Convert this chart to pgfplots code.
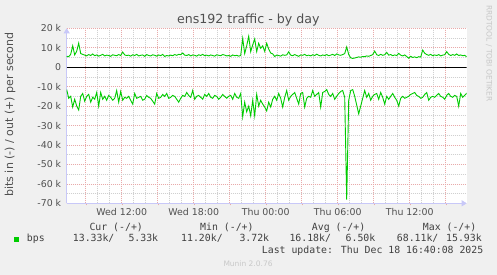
\documentclass[border=0pt]{standalone}
\usepackage{pgfplots}
\pgfplotsset{compat=1.18}
\usepackage{pgfplotstable}
\usepackage{fontspec}
\setmainfont{DejaVu Sans}
\newfontfamily\monofont{DejaVu Sans Mono}
\usetikzlibrary{arrows.meta}
\definecolor{bg}{HTML}{F0F0F0}
\definecolor{munin}{HTML}{00CC00}
\definecolor{gridmaj}{HTML}{E8AAAA}
\definecolor{gridmin}{HTML}{D0D0D0}
\definecolor{axisc}{HTML}{C8C8F8}
\definecolor{txt}{HTML}{505050}
\definecolor{legtxt}{HTML}{404040}
\definecolor{faint}{HTML}{C8C8C8}

% t = position (two 5-minute samples per step), outb / inb in kbit/s
\pgfplotstableread{
t outb inb
0 5.6 -11.5
2 5.4 -16
4 6.6 -15
6 11.0 -20.5
8 6.3 -16.5
10 8.2 -20
12 12.3 -22
14 7.0 -15
16 6.6 -13.5
18 6.2 -17.5
20 5.8 -15
22 6.5 -14
24 6.0 -18
26 6.8 -15.5
28 5.9 -16.5
30 6.3 -13
32 5.7 -20
34 6.1 -13
36 6.6 -16.5
38 5.8 -15
40 6.2 -17
42 6.0 -14.5
44 5.6 -15.5
46 6.4 -17
48 6.1 -16
50 5.9 -12
52 6.5 -18
54 6.0 -12.5
56 7.8 -17
58 6.3 -15.5
60 6.0 -16
62 6.2 -15
64 5.7 -17
66 6.4 -19
68 6.0 -13.5
70 6.6 -16
72 5.8 -15.5
74 6.1 -15
76 6.3 -17
78 5.6 -16.5
80 6.5 -14.5
82 6.0 -15.5
84 5.8 -16
86 6.4 -17.5
88 6.1 -19
90 5.7 -13.5
92 6.3 -16
94 5.9 -15.5
96 6.6 -14
98 5.5 -15
100 6.0 -13.5
102 5.8 -16
104 6.2 -15.5
106 5.9 -14.5
108 6.5 -15
110 6.1 -16.5
112 6.6 -18
114 6.4 -16
116 7.3 -14.5
118 6.2 -15
120 6.0 -13
122 6.5 -14.5
124 5.8 -15.5
126 6.3 -12
128 6.1 -16.5
130 5.7 -15
132 6.4 -14.5
134 6.0 -15.5
136 6.6 -16.5
138 5.9 -14
140 6.2 -15
142 5.8 -13.5
144 6.3 -15.5
146 6.0 -16
148 5.7 -14.5
150 6.4 -15
152 6.1 -16.5
154 5.9 -15.5
156 6.5 -14
158 6.2 -15
160 5.8 -16
162 6.0 -15
164 5.6 -14.5
166 6.3 -16.5
168 5.9 -13.5
170 6.1 -15.5
172 5.7 -16
174 6.0 -13.5
176 14.8 -25.5
178 7.0 -18
180 11.0 -23
182 15.9 -20
184 8.0 -25
186 11.5 -17
188 14.5 -25
190 8.0 -14
192 12.3 -20
194 9.7 -17
196 11.0 -19
198 8.1 -20.5
200 12.3 -22.5
202 9.3 -18
204 7.3 -20.5
206 6.8 -16.5
208 5.5 -15
210 6.2 -17
212 6.0 -13.5
214 5.7 -16
216 6.4 -20.5
218 6.1 -15.5
220 6.3 -12
222 7.9 -17
224 6.2 -15
226 5.9 -14
228 6.5 -13
230 6.0 -16
232 5.6 -19
234 6.3 -13.5
236 6.1 -13
238 6.6 -20.5
240 5.9 -16
242 6.2 -15
244 5.8 -15.5
246 6.4 -12
248 6.0 -15
250 6.7 -14
252 6.1 -13
254 5.8 -20.5
256 6.3 -13
258 6.0 -12.5
260 6.5 -11.5
262 5.9 -14
264 6.2 -15
266 6.6 -13.5
268 6.0 -16.5
270 6.8 -15
272 6.3 -13.5
274 6.1 -12.5
276 6.5 -12
278 7.0 -15.5
280 10.4 -68.11
282 6.5 -17
284 4.8 -12
286 4.5 -11.5
288 4.7 -15
290 5.0 -19.5
292 5.3 -24
294 5.1 -20
296 5.5 -16
298 5.4 -12
300 5.8 -15.5
302 5.6 -13.5
304 6.0 -17
306 6.5 -15
308 8.3 -14
310 6.4 -13.5
312 6.0 -16.5
314 6.6 -13
316 6.1 -15.5
318 6.4 -19
320 7.6 -15
322 6.2 -16.5
324 6.5 -15
326 5.9 -13.5
328 6.3 -15.5
330 6.0 -17
332 7.1 -20
334 6.2 -16
336 5.8 -15
338 6.3 -16
340 5.5 -15.5
342 4.6 -15
344 5.6 -14
346 5.0 -13.5
348 5.3 -13
350 4.9 -14.5
352 5.4 -15
354 5.2 -16
356 8.8 -15.5
358 7.2 -14
360 6.5 -13
362 6.1 -17
364 6.6 -15.5
366 5.9 -15
368 6.3 -15.5
370 6.0 -14.5
372 6.5 -13.5
374 5.8 -15
376 6.2 -15.5
378 6.4 -16.5
380 8.0 -14.5
382 6.6 -13.5
384 6.0 -15
386 6.5 -15.5
388 6.1 -14.5
390 6.8 -15
392 6.0 -20
394 6.3 -13.5
396 5.9 -15.5
398 6.1 -14.5
400 5.33 -13.33
}\traffic

\begin{document}
\begin{tikzpicture}[x=1pt,y=1pt]
\useasboundingbox (0,0) rectangle (497,275);
\fill[bg] (0,0) rectangle (497,275);
\begin{axis}[
  at={(66.7pt,71.7pt)}, anchor=south west,
  scale only axis, width=400pt, height=175pt,
  xmin=0, xmax=400, ymin=-70, ymax=20,
  axis background/.style={fill=white},
  axis lines=left,
  axis line style={draw=axisc, line width=0.8pt},
  x axis line style={-{Triangle[length=5pt,width=6pt]}},
  y axis line style={-{Triangle[length=5pt,width=6pt]}},
  xtick={19,55,...,379},
  xticklabels={,Wed 12:00,,Wed 18:00,,Thu 00:00,,Thu 06:00,,Thu 12:00,},
  minor x tick num=2,
  ytick={-70,-60,...,20},
  yticklabels={-70 k,-60 k,-50 k,-40 k,-30 k,-20 k,-10 k,0,10 k,20 k},
  minor y tick num=1,
  grid=both,
  major grid style={draw=gridmaj, line width=0.6pt, dash pattern=on 1pt off 1pt},
  minor grid style={draw=gridmin, line width=0.6pt, dash pattern=on 1pt off 1pt},
  tick align=outside,
  major tick length=2pt, minor tick length=0pt,
  xtick style={draw=gridmaj},
  ytick style={draw=none},
  tick label style={font=\fontsize{9.4}{10}\selectfont, text=txt},
]
\addplot[munin, line width=0.9pt] table[x=t, y=outb] {\traffic};
\addplot[munin, line width=0.9pt] table[x=t, y=inb] {\traffic};
\addplot[black, line width=0.9pt] coordinates {(0,0) (400,0)};
\end{axis}
\node[font=\fontsize{12.6}{14}\selectfont, text=txt, anchor=base] at (248.3,251) {ens192 traffic - by day};
\node[rotate=90, font=\fontsize{11}{12}\selectfont, text=txt] at (10,160.5) {bits in (-) / out (+) per second};
\node[rotate=-90, font=\fontsize{7.5}{8}\selectfont, text=faint] at (489,221.5) {RRDTOOL / TOBI OETIKER};
\begin{scope}[every node/.style={anchor=base west, inner sep=0pt, text=legtxt, font=\monofont\fontsize{9.85}{10}\selectfont}]
\node at (89.3,44.5) {Cur (-/+)};
\node at (200,44.5) {Min (-/+)};
\node at (311.7,44.5) {Avg (-/+)};
\node at (422.7,44.5) {Max (-/+)};
\node at (26.7,33) {bps};
\node at (72.7,33) {13.33k/};
\node at (128.3,33) {5.33k};
\node at (181,33) {11.20k/};
\node at (239.3,33) {3.72k};
\node at (289.3,33) {16.18k/};
\node at (345.5,33) {6.50k};
\node at (396.7,33) {68.11k/};
\node at (446,33) {15.93k};
\node at (261.7,21.5) {Last update: Thu Dec 18 16:40:08 2025};
\end{scope}
\fill[munin] (14,33) rectangle (19.3,38.3);
\node[anchor=base west, inner sep=0pt, text=faint, font=\fontsize{7.5}{8}\selectfont] at (223.3,8) {Munin 2.0.76};
\end{tikzpicture}
\end{document}
